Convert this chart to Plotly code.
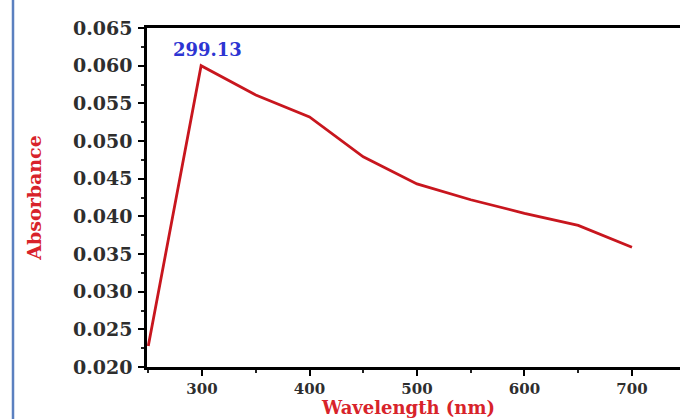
import plotly.graph_objects as go

wavelength = [250, 299.13, 350, 400, 450, 500, 550, 600, 650, 700]
absorbance = [0.0228, 0.0600, 0.0561, 0.0532, 0.0479, 0.0443, 0.0422, 0.0404, 0.0388, 0.0359]
peak_label = "299.13"
x_ticks = [300, 400, 500, 600, 700]
y_ticks = [0.020, 0.025, 0.030, 0.035, 0.040, 0.045, 0.050, 0.055, 0.060, 0.065]

W, H = 680, 419
L, T, B = 147, 28, 52
R = 0
pw = W - L - R
ph = H - T - B

font = "DejaVu Serif"

fig = go.Figure()
fig.add_trace(go.Scatter(
    x=wavelength, y=absorbance, mode="lines",
    line=dict(color="#c8161e", width=2.8), showlegend=False,
))

fig.add_annotation(
    x=wavelength[1], y=absorbance[1], text="<b>" + peak_label + "</b>",
    showarrow=False, yshift=16, xshift=6,
    font=dict(family=font, size=18, color="#2d35d2"),
)

# x-axis title placed at the bottom edge
fig.add_annotation(
    xref="paper", yref="paper", x=(408 - L) / pw, y=-B / ph,
    xanchor="center", yanchor="bottom", showarrow=False, yshift=0,
    text="<b>Wavelength (nm)</b>", borderpad=0,
    font=dict(family=font, size=18, color="#d8232a"),
)

fig.update_xaxes(
    range=[248.8, 744.7],
    tickvals=x_ticks, ticktext=[str(v) for v in x_ticks],
    showline=True, linecolor="black", linewidth=2.5, mirror=True,
    ticks="outside", ticklen=6, tickwidth=2, tickcolor="black",
    minor=dict(dtick=50, ticks="outside", ticklen=3, tickwidth=2, tickcolor="#222"),
    showgrid=False, zeroline=False,
    tickfont=dict(family=font, size=15, color="#2e2e2e", weight="bold"),
)
fig.update_yaxes(
    range=[0.020, 0.065],
    tickvals=y_ticks, ticktext=["%.3f" % v for v in y_ticks],
    showline=True, linecolor="black", linewidth=2.5,
    ticks="outside", ticklen=6, tickwidth=2, tickcolor="black",
    minor=dict(dtick=0.0025, ticks="outside", ticklen=3, tickwidth=2, tickcolor="#222"),
    showgrid=False, zeroline=False,
    ticklabelstandoff=2,
    tickfont=dict(family=font, size=19, color="#2e2e2e", weight="bold"),
    title=dict(text="<b>Absorbance</b>", font=dict(family=font, size=19, color="#d8232a"), standoff=27),
)

# outer blue frame
x0 = (13 - L) / pw
y0 = (H - T - 9) / ph
fig.add_shape(type="line", xref="paper", yref="paper", x0=x0, x1=x0, y0=-0.2, y1=y0,
              line=dict(color="#5b80c0", width=2.5))
fig.add_shape(type="line", xref="paper", yref="paper", x0=x0, x1=1.05, y0=y0, y1=y0,
              line=dict(color="#5b80c0", width=2.5))

fig.update_layout(
    width=W, height=H,
    margin=dict(l=L, r=R, t=T, b=B, pad=0),
    plot_bgcolor="white", paper_bgcolor="white",
)

fig.write_html("out.html")
